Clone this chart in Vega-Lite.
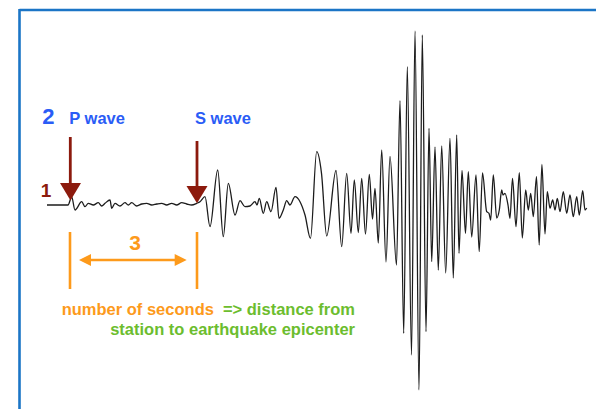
{
  "$schema": "https://vega.github.io/schema/vega-lite/v6.json",
  "width": 596,
  "height": 409,
  "padding": 0,
  "autosize": {"type": "none"},
  "background": "white",
  "config": {"view": {"stroke": null}, "text": {"font": "Liberation Sans", "fontWeight": "bold"}},
  "encoding": {
    "x": {"field": "t", "type": "quantitative", "scale": {"domain": [0, 596], "nice": false, "zero": false}, "axis": null},
    "y": {"field": "amp", "type": "quantitative", "scale": {"domain": [-204, 205], "nice": false, "zero": false}, "axis": null}
  },
  "layer": [
    {
      "data": {"values": [
        {"t": 19.5, "t2": 596, "amp": 195, "amp2": 195},
        {"t": 19.5, "t2": 19.5, "amp": 196, "amp2": -204}
      ]},
      "mark": {"type": "rule", "color": "#1b75c6", "strokeWidth": 2.6},
      "encoding": {"x2": {"field": "t2"}, "y2": {"field": "amp2"}}
    },
    {
      "data": {"values": [
        {"t": 47, "amp": 0}, {"t": 68, "amp": 0}, {"t": 71.7, "amp": 8}, {"t": 75, "amp": -5},
        {"t": 81.7, "amp": 3.3}, {"t": 85, "amp": -1.7}, {"t": 88.3, "amp": 1.7}, {"t": 93.3, "amp": 0},
        {"t": 98.3, "amp": 2.3}, {"t": 101.7, "amp": -1}, {"t": 105, "amp": 1.7}, {"t": 110, "amp": 5},
        {"t": 111.7, "amp": -3.3}, {"t": 115, "amp": 1.7}, {"t": 120, "amp": -1}, {"t": 125, "amp": 2.3},
        {"t": 128.3, "amp": 0}, {"t": 131.7, "amp": 2.3}, {"t": 136.7, "amp": -1}, {"t": 141.7, "amp": 1},
        {"t": 146.7, "amp": 1.7}, {"t": 151.7, "amp": 0}, {"t": 156.7, "amp": 1}, {"t": 161.7, "amp": 1.7},
        {"t": 166.7, "amp": 0}, {"t": 171.7, "amp": 1.7}, {"t": 176.7, "amp": 0}, {"t": 181.7, "amp": 2.3},
        {"t": 186.7, "amp": 1}, {"t": 191.7, "amp": 0}, {"t": 196.7, "amp": 1.7}, {"t": 200, "amp": 3.3},
        {"t": 205, "amp": 8.3}, {"t": 210, "amp": -21.7}, {"t": 217.7, "amp": 35}, {"t": 223.3, "amp": -31.7},
        {"t": 228.3, "amp": 21.7}, {"t": 235, "amp": -10}, {"t": 240, "amp": 4.3}, {"t": 245, "amp": -1.7},
        {"t": 250, "amp": -1}, {"t": 255, "amp": 3.3}, {"t": 257, "amp": 0}, {"t": 259.3, "amp": 6.7},
        {"t": 263.3, "amp": -8.3}, {"t": 266.7, "amp": 3.3}, {"t": 271, "amp": -6.7}, {"t": 276, "amp": 17.7},
        {"t": 279, "amp": -13.3}, {"t": 283.3, "amp": -5}, {"t": 286.7, "amp": 4.3}, {"t": 290, "amp": 0},
        {"t": 295, "amp": 8.3}, {"t": 300, "amp": 3.3}, {"t": 305, "amp": -10}, {"t": 310.5, "amp": -33.3},
        {"t": 316.7, "amp": 53.3}, {"t": 321.5, "amp": 31.7}, {"t": 326.7, "amp": -31}, {"t": 336, "amp": 34.5},
        {"t": 341.7, "amp": -41.7}, {"t": 346.7, "amp": 31.7}, {"t": 351, "amp": -28.3}, {"t": 354.3, "amp": 25},
        {"t": 358.3, "amp": -27.5}, {"t": 361.7, "amp": 26.7}, {"t": 365.5, "amp": -29}, {"t": 369.3, "amp": 30.5},
        {"t": 372.5, "amp": -14}, {"t": 375, "amp": 16.7}, {"t": 378.3, "amp": -38}, {"t": 381.7, "amp": 55},
        {"t": 386, "amp": -57}, {"t": 390, "amp": 48.5}, {"t": 396.5, "amp": -60}, {"t": 400, "amp": 104.3},
        {"t": 403.7, "amp": -128.3}, {"t": 407.3, "amp": 138.3}, {"t": 411.5, "amp": -150}, {"t": 415, "amp": 174},
        {"t": 419, "amp": -185}, {"t": 422.3, "amp": 170}, {"t": 426, "amp": -126.7}, {"t": 429, "amp": 76.7},
        {"t": 431.7, "amp": -56.7}, {"t": 435, "amp": 58}, {"t": 438.3, "amp": -65}, {"t": 441.7, "amp": 59},
        {"t": 445.7, "amp": -68}, {"t": 450, "amp": 66.7}, {"t": 453.3, "amp": -73}, {"t": 456.7, "amp": 70},
        {"t": 459, "amp": -48.3}, {"t": 462, "amp": 34.5}, {"t": 465.5, "amp": -28.3}, {"t": 468.3, "amp": 33.3},
        {"t": 471.7, "amp": -32}, {"t": 476, "amp": 30}, {"t": 479.2, "amp": -46.7}, {"t": 482.5, "amp": 32},
        {"t": 486.7, "amp": -6.7}, {"t": 489, "amp": -8.3}, {"t": 490.7, "amp": -15}, {"t": 493.3, "amp": 30},
        {"t": 496.7, "amp": -13}, {"t": 499.3, "amp": -5}, {"t": 501.7, "amp": 15}, {"t": 503, "amp": 10},
        {"t": 505, "amp": 11.7}, {"t": 508, "amp": 0}, {"t": 510, "amp": -13.3}, {"t": 512.5, "amp": 26.7},
        {"t": 516, "amp": -21.7}, {"t": 519.3, "amp": 32.3}, {"t": 522.3, "amp": -33}, {"t": 525.7, "amp": 15},
        {"t": 528.3, "amp": -5}, {"t": 530.7, "amp": 11.7}, {"t": 533.3, "amp": -11.7}, {"t": 536.5, "amp": 28.3},
        {"t": 539.2, "amp": -40}, {"t": 541.9, "amp": 40.5}, {"t": 545, "amp": -29}, {"t": 547.3, "amp": 13.3},
        {"t": 550, "amp": -3.3}, {"t": 552.7, "amp": 5}, {"t": 555, "amp": -5}, {"t": 557.3, "amp": 6.7},
        {"t": 560, "amp": -6.7}, {"t": 563.3, "amp": 13.3}, {"t": 566.7, "amp": -8.3}, {"t": 570, "amp": 10},
        {"t": 573.3, "amp": -11.7}, {"t": 576.7, "amp": 8.3}, {"t": 579.3, "amp": -10}, {"t": 582.7, "amp": 14.3},
        {"t": 585, "amp": -5}, {"t": 586.7, "amp": -3}
      ]},
      "mark": {"type": "line", "interpolate": "monotone", "color": "#1c1c1c", "strokeWidth": 1.3}
    },
    {
      "data": {"values": [
        {"t": 70.3, "amp": 68, "amp2": 20},
        {"t": 197, "amp": 64, "amp2": 17}
      ]},
      "mark": {"type": "rule", "color": "#8c1a0d", "strokeWidth": 2.8},
      "encoding": {"y2": {"field": "amp2"}}
    },
    {
      "data": {"values": [
        {"t": 70.5, "amp": 13.5},
        {"t": 197, "amp": 10.7}
      ]},
      "mark": {"type": "point", "shape": "M-1,-0.8L1,-0.8L0,0.85Z", "size": 441, "filled": true, "color": "#8c1a0d", "opacity": 1, "strokeWidth": 0}
    },
    {
      "data": {"values": [
        {"t": 70, "t2": 70, "amp": -27, "amp2": -84},
        {"t": 197, "t2": 197, "amp": -27, "amp2": -84},
        {"t": 86, "t2": 180, "amp": -55, "amp2": -55}
      ]},
      "mark": {"type": "rule", "color": "#fd9a1b", "strokeWidth": 2.6},
      "encoding": {"x2": {"field": "t2"}, "y2": {"field": "amp2"}}
    },
    {
      "data": {"values": [
        {"t": 85, "amp": -55, "dir": "left"},
        {"t": 180.7, "amp": -55, "dir": "right"}
      ]},
      "mark": {"type": "point", "size": 144, "filled": true, "color": "#fd9a1b", "opacity": 1, "strokeWidth": 0},
      "encoding": {
        "shape": {"field": "dir", "type": "nominal", "legend": null,
          "scale": {"domain": ["left", "right"], "range": ["M-1,0L1,-1L1,1Z", "M1,0L-1,-1L-1,1Z"]}}
      }
    },
    {
      "data": {"values": [{"t": 48.3, "amp": 81, "label": "2"}]},
      "mark": {"type": "text", "fontSize": 22, "color": "#2a5cf6", "align": "center", "baseline": "alphabetic"},
      "encoding": {"text": {"field": "label"}}
    },
    {
      "data": {"values": [
        {"t": 69.3, "amp": 81, "label": "P wave"},
        {"t": 195, "amp": 81, "label": "S wave"}
      ]},
      "mark": {"type": "text", "fontSize": 16.5, "color": "#2a5cf6", "align": "left", "baseline": "alphabetic"},
      "encoding": {"text": {"field": "label"}}
    },
    {
      "data": {"values": [{"t": 46, "amp": 8.3, "label": "1"}]},
      "mark": {"type": "text", "fontSize": 19, "color": "#8c1a0d", "align": "center", "baseline": "alphabetic"},
      "encoding": {"text": {"field": "label"}}
    },
    {
      "data": {"values": [{"t": 135, "amp": -45, "label": "3"}]},
      "mark": {"type": "text", "fontSize": 21, "color": "#fd9a1b", "align": "center", "baseline": "alphabetic"},
      "encoding": {"text": {"field": "label"}}
    },
    {
      "data": {"values": [{"t": 61.7, "amp": -110, "label": "number of seconds"}]},
      "mark": {"type": "text", "fontSize": 16.5, "color": "#fd9a1b", "align": "left", "baseline": "alphabetic"},
      "encoding": {"text": {"field": "label"}}
    },
    {
      "data": {"values": [
        {"t": 355, "amp": -110, "label": "=> distance from"},
        {"t": 355, "amp": -130, "label": "station to earthquake epicenter"}
      ]},
      "mark": {"type": "text", "fontSize": 16.5, "color": "#6cbd2e", "align": "right", "baseline": "alphabetic"},
      "encoding": {"text": {"field": "label"}}
    }
  ]
}
